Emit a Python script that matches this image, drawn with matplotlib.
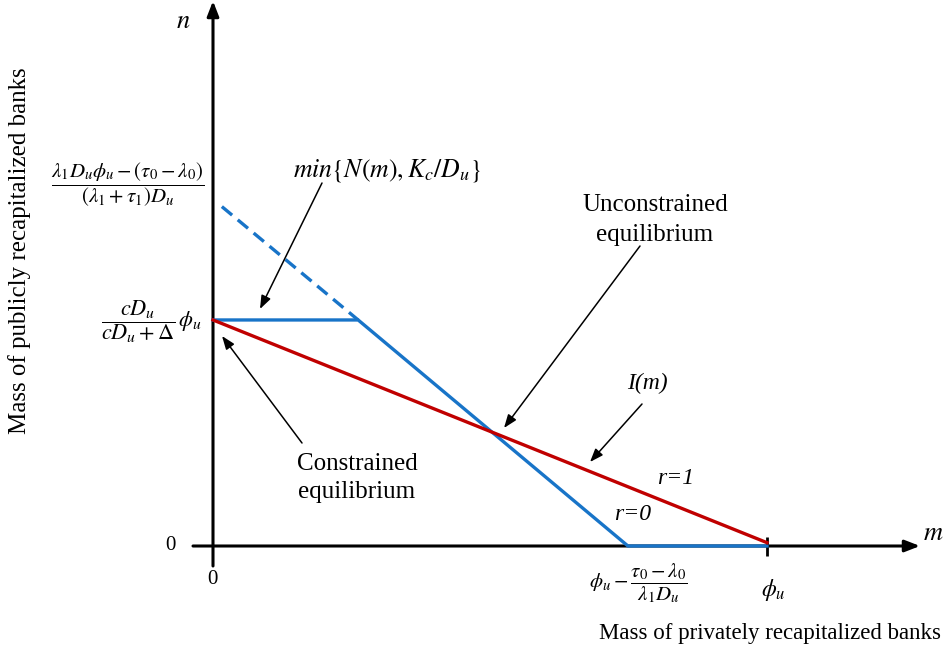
import matplotlib
matplotlib.use("Agg")
import matplotlib.pyplot as plt

# ---- data (units: phi_u = 1) ----
phi_u = 1.0
m_bar = 0.749          # phi_u - (tau0 - lambda0)/(lambda1 D_u)
n_top = 0.626          # N(0)
n_cap = 0.408          # K_c / D_u  (= cD_u/(cD_u+Delta) phi_u)
m_kink = 0.262
blue_m = [0.0, m_kink, m_bar, phi_u]
blue_n = [n_cap, n_cap, 0.0, 0.0]
dash_m = [0.016, m_kink]
dash_n = [n_top * (1 - 0.016 / m_bar), n_cap]
red_m = [0.0, phi_u]
red_n = [n_cap, 0.006]

plt.rcParams['font.family'] = ['Liberation Serif', 'DejaVu Serif']
plt.rcParams['mathtext.fontset'] = 'stix'

W, H = 950, 649
fig = plt.figure(figsize=(W / 100, H / 100), dpi=100)
ax = fig.add_axes([0, 0, 1, 1])
ox, oy, s = 213, 546, 554
ax.set_xlim(-ox / s, (W - ox) / s)
ax.set_ylim(-(H - oy) / s, oy / s)
ax.axis('off')

def P(px, py):
    return ((px - ox) / s, (oy - py) / s)

blue = '#1874C8'
red = '#C00000'

# axes
ax.annotate('', xy=P(920, 546), xytext=P(193, 546),
            arrowprops=dict(arrowstyle='-|>,head_length=0.9,head_width=0.35', color='black', lw=2.2, shrinkA=0, shrinkB=0))
ax.annotate('', xy=P(213, 1), xytext=P(213, 566),
            arrowprops=dict(arrowstyle='-|>,head_length=0.9,head_width=0.35', color='black', lw=2.2, shrinkA=0, shrinkB=0))
ax.plot([phi_u, phi_u], [P(0, 537)[1], P(0, 556)[1]], color='black', lw=2, solid_capstyle='butt')

# curves
ax.plot(blue_m, blue_n, color=blue, lw=2.4, solid_joinstyle='miter', zorder=3)
ax.plot(dash_m, dash_n, color=blue, lw=2.4, ls=(0, (4, 2.2)), zorder=3)
ax.plot(red_m, red_n, color=red, lw=2.4, zorder=4)

# axis symbols
ax.text(*P(183, 22), r'$n$', fontsize=19, ha='center', va='center')
ax.text(*P(933, 534), r'$m$', fontsize=19, ha='center', va='center')

# tick labels
ax.text(*P(170, 546), '0', fontsize=15, ha='center', va='center')
ax.text(*P(212, 580), '0', fontsize=15, ha='center', va='center')
ax.text(*P(128, 185), r'$\dfrac{\lambda_1 D_u \phi_u - (\tau_0 - \lambda_0)}{(\lambda_1+\tau_1) D_u}$',
        fontsize=15, ha='center', va='center')
ax.text(*P(152, 322), r'$\dfrac{cD_u}{cD_u+\Delta}\,\phi_u$', fontsize=16, ha='center', va='center')
ax.text(*P(638, 583), r'$\phi_u - \dfrac{\tau_0-\lambda_0}{\lambda_1 D_u}$', fontsize=15, ha='center', va='center')
ax.text(*P(773, 590), r'$\phi_u$', fontsize=17, ha='center', va='center')

# axis titles
ax.text(*P(770, 633), 'Mass of privately recapitalized banks', fontsize=16.5, ha='center', va='center')
ax.text(*P(20, 251), 'Mass of publicly recapitalized banks', fontsize=18, ha='center', va='center', rotation=90)

# annotations
arr = dict(arrowstyle='-|>,head_length=0.8,head_width=0.3', color='black', lw=1.1, shrinkA=0, shrinkB=0)
ax.text(*P(387, 170), r'$min\{N(m), K_c/D_u\}$', fontsize=18.5, ha='center', va='center')
ax.annotate('', xy=P(260, 309), xytext=P(322, 183), arrowprops=arr)
ax.text(*P(655, 220), 'Unconstrained\nequilibrium', fontsize=18, ha='center', va='center', linespacing=1.5)
ax.annotate('', xy=P(504, 428), xytext=P(640, 246), arrowprops=arr)
ax.text(*P(357, 478), 'Constrained\nequilibrium', fontsize=18, ha='center', va='center', linespacing=1.4)
ax.annotate('', xy=P(222, 336), xytext=P(302, 443), arrowprops=arr)
ax.text(*P(647, 383), 'I(m)', fontsize=17, style='italic', ha='center', va='center')
ax.annotate('', xy=P(590, 462), xytext=P(642, 404), arrowprops=arr)
ax.text(*P(676, 478), 'r=1', fontsize=17, style='italic', ha='center', va='center')
ax.text(*P(633, 514), 'r=0', fontsize=17, style='italic', ha='center', va='center')

fig.savefig('out.png', dpi=100)
